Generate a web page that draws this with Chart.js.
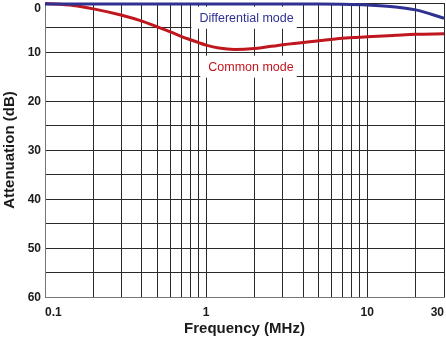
<!DOCTYPE html>
<html>
<head>
<meta charset="utf-8">
<script src="https://cdn.jsdelivr.net/npm/chart.js@4.4.1/dist/chart.umd.min.js"></script>
<style>
  html, body { margin: 0; padding: 0; background: #fff; }
</style>
</head>
<body>
<canvas id="attChart" width="446" height="340"></canvas>
<script>
// Attenuation vs frequency for the two noise modes
const freqMHz    = [0.1, 0.15, 0.2, 0.3, 0.4, 0.5, 0.6, 0.7, 0.8, 0.9, 1, 1.2, 1.5, 2, 3, 5, 7, 10, 15, 20, 30];
const commonMode = [0.1, 0.5, 1.2, 2.5, 3.7, 4.9, 5.9, 6.8, 7.5, 8.1, 8.6, 9.2, 9.5, 9.3, 8.5, 7.7, 7.2, 6.9, 6.6, 6.4, 6.3];
const diffMode   = [0.2, 0.2, 0.2, 0.2, 0.2, 0.2, 0.2, 0.2, 0.2, 0.2, 0.2, 0.2, 0.2, 0.2, 0.2, 0.2, 0.25, 0.4, 0.8, 1.4, 3.1];

// grid lines and labelled ticks
const gridFreqs  = [0.1, 0.2, 0.3, 0.4, 0.5, 0.6, 0.7, 0.8, 0.9, 1, 2, 3, 4, 5, 6, 7, 8, 9, 10, 20, 30];
const freqLabels = [0.1, 1, 10, 30];
const dbGrid     = [0, 5, 10, 15, 20, 25, 30, 35, 40, 45, 50, 55, 60];
const dbLabels   = [0, 10, 20, 30, 40, 50, 60];

// curve names, placed in data units
const modeNotes = [
    { text: 'Differential mode', freq: 3.5, db: 3,  color: '#2e3192' },
    { text: 'Common mode',       freq: 3.5, db: 13, color: '#c0161e' }
];

const FONT = '"Liberation Sans", Arial, Helvetica, sans-serif';
Chart.defaults.font.family = FONT;

const pts = vals => freqMHz.map((f, i) => ({ x: f, y: vals[i] }));

const notesPlugin = {
    id: 'notes',
    beforeDatasetsDraw(chart) {
        const { ctx, scales: { x, y } } = chart;
        ctx.save();
        ctx.font = '12.5px ' + FONT;
        ctx.textAlign = 'right';
        ctx.textBaseline = 'middle';
        modeNotes.forEach(n => {
            const px = x.getPixelForValue(n.freq);
            const py = y.getPixelForValue(n.db);
            const w = ctx.measureText(n.text).width;
            ctx.fillStyle = '#fff';
            ctx.fillRect(px - w - 8, py - 11, w + 11, 22);
            ctx.fillStyle = n.color;
            ctx.fillText(n.text, px, py + 0.5);
        });
        ctx.restore();
    },
    afterDatasetsDraw(chart) {
        const { ctx, chartArea, scales: { y } } = chart;
        ctx.save();
        ctx.font = 'bold 12px ' + FONT;
        ctx.fillStyle = '#1a1a1a';
        ctx.textAlign = 'right';
        ctx.textBaseline = 'middle';
        dbLabels.forEach(v => {
            const py = Math.max(y.getPixelForValue(v), chartArea.top + 5);
            ctx.fillText(String(v), chartArea.left - 4, py + 0.5);
        });
        ctx.restore();
    }
};

new Chart(document.getElementById('attChart'), {
    type: 'line',
    data: {
        datasets: [{
            label: 'Differential mode',
            data: pts(diffMode),
            borderColor: '#2e3192',
            borderWidth: 3,
            pointRadius: 0,
            cubicInterpolationMode: 'monotone',
            clip: false
        }, {
            label: 'Common mode',
            data: pts(commonMode),
            borderColor: '#c0161e',
            borderWidth: 3,
            pointRadius: 0,
            cubicInterpolationMode: 'monotone',
            clip: false
        }]
    },
    options: {
        responsive: false,
        animation: false,
        layout: { padding: { top: 3, right: 2, left: 0, bottom: 0 } },
        plugins: { legend: { display: false }, tooltip: { enabled: false } },
        scales: {
            x: {
                type: 'logarithmic',
                min: 0.1,
                max: 30,
                afterBuildTicks: s => { s.ticks = gridFreqs.map(v => ({ value: v })); },
                afterFit: s => { s.height = 43; s.paddingLeft = 0; s.paddingRight = 0; },
                ticks: {
                    align: 'inner',
                    autoSkip: false,
                    maxRotation: 0,
                    padding: 8,
                    color: '#1a1a1a',
                    font: { size: 12, weight: 'bold' },
                    callback: v => freqLabels.includes(v) ? String(v) : ''
                },
                grid: { color: '#2a2a2a', drawTicks: false },
                border: { color: '#777' },
                title: {
                    display: true,
                    text: 'Frequency (MHz)',
                    color: '#1a1a1a',
                    font: { size: 15, weight: 'bold' },
                    padding: { top: 0, bottom: 2 }
                }
            },
            y: {
                type: 'linear',
                reverse: true,
                min: 0,
                max: 60,
                afterBuildTicks: s => { s.ticks = dbGrid.map(v => ({ value: v })); },
                afterFit: s => { s.width = 45; s.paddingTop = 0; s.paddingBottom = 0; },
                ticks: { display: false },
                grid: { color: '#2a2a2a', drawTicks: false },
                border: { color: '#777' },
                title: {
                    display: true,
                    text: 'Attenuation (dB)',
                    color: '#1a1a1a',
                    font: { size: 15, weight: 'bold' },
                    padding: { top: 1, bottom: 0 }
                }
            }
        }
    },
    plugins: [notesPlugin]
});
</script>
</body>
</html>
